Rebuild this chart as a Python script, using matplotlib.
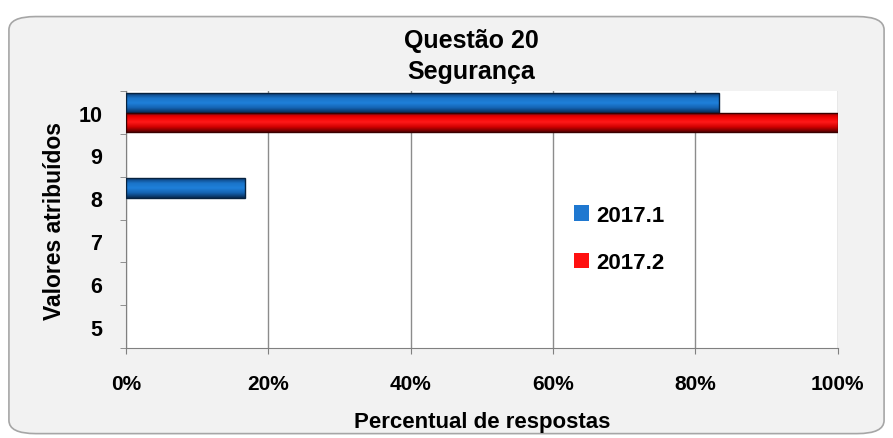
import numpy as np
import matplotlib
matplotlib.use('Agg')
import matplotlib.pyplot as plt
from matplotlib.patches import FancyBboxPatch
from matplotlib.colors import LinearSegmentedColormap

plt.rcParams['font.family'] = ['Liberation Sans', 'DejaVu Sans']

categorias = ['5', '6', '7', '8', '9', '10']
serie_2017_1 = [0, 0, 0, 16.7, 0, 83.3]
serie_2017_2 = [0, 0, 0, 0, 0, 100]
x_ticks = [0, 20, 40, 60, 80, 100]

fig = plt.figure(figsize=(8.93, 4.39), dpi=100)
fig.patch.set_facecolor('white')

# moldura arredondada estilo Excel
moldura = FancyBboxPatch((0.010, 0.010), 0.980, 0.950,
                         boxstyle='round,pad=0,rounding_size=0.03',
                         transform=fig.transFigure, facecolor='#f2f2f2',
                         edgecolor='#a6a6a6', linewidth=1.2, zorder=-10)
fig.add_artist(moldura)

ax = fig.add_axes([0.141, 0.205, 0.797, 0.585])
ax.set_facecolor('white')

y = np.arange(len(categorias))
h = 0.465
# barras com valor zero ficam sem contorno
b1 = ax.barh(y + h / 2, serie_2017_1, height=h, color='#1f78d0',
             edgecolor=['#06223f' if v > 0 else 'none' for v in serie_2017_1],
             linewidth=1.0, label='2017.1', zorder=3)
b2 = ax.barh(y - h / 2, serie_2017_2, height=h, color='#ff1010',
             edgecolor=['#3a0000' if v > 0 else 'none' for v in serie_2017_2],
             linewidth=1.0, label='2017.2', zorder=3)

# degradê tipo cilindro (escuro nas bordas, claro no meio)
grad_azul = LinearSegmentedColormap.from_list(
    'az', ['#072a52', '#1462b0', '#1f80da', '#1a74c8', '#0b3d75'])
grad_verm = LinearSegmentedColormap.from_list(
    'vm', ['#5a0000', '#d00000', '#ff1a1a', '#f00000', '#900000'])
g = np.linspace(0, 1, 64).reshape(-1, 1)
for barras, cmap in [(b1, grad_azul), (b2, grad_verm)]:
    for p in barras:
        if p.get_width() <= 0:
            continue
        x0, y0 = p.get_x(), p.get_y()
        im = ax.imshow(g, cmap=cmap, origin='lower', aspect='auto',
                       extent=[x0, x0 + p.get_width(), y0, y0 + p.get_height()],
                       zorder=3.5, interpolation='bilinear')
        im.set_clip_path(p)
        p.set_zorder(4)
        p.set_facecolor('none')

ax.set_xlim(0, 100)
ax.set_ylim(-0.5, len(categorias) - 0.5)
ax.set_xticks(x_ticks)
ax.set_xticklabels([f'{v}%' for v in x_ticks], fontsize=15, fontweight='bold')
ax.set_yticks(y)
ax.set_yticklabels(categorias, fontsize=15.5, fontweight='bold')
ax.set_yticks(np.arange(len(categorias) + 1) - 0.5, minor=True)
ax.tick_params(axis='y', which='major', length=0, pad=17)
ax.tick_params(axis='y', which='minor', length=4, color='#808080')
ax.tick_params(axis='x', length=4, color='#808080', pad=15)

ax.grid(axis='x', color='#8c8c8c', linewidth=1.0, zorder=0)
for s in ['top', 'right']:
    ax.spines[s].set_visible(False)
for s in ['left', 'bottom']:
    ax.spines[s].set_color('#808080')

ax.set_xlabel('Percentual de respostas', fontsize=16, fontweight='bold', labelpad=13)
ax.set_ylabel('Valores atribuídos', fontsize=16.5, fontweight='bold', labelpad=9)

fig.text(0.528, 0.907, 'Questão 20', ha='center', va='center', fontsize=18, fontweight='bold')
fig.text(0.528, 0.836, 'Segurança', ha='center', va='center', fontsize=18, fontweight='bold')

leg = ax.legend(loc='center left', bbox_to_anchor=(0.629, 0.424), frameon=False,
                prop={'weight': 'bold', 'size': 16}, borderpad=0, borderaxespad=0,
                handlelength=0.7, handleheight=0.7, handletextpad=0.3, labelspacing=1.2)
for hnd, cor in zip(leg.legend_handles, ['#1f78d0', '#ff1010']):
    hnd.set_facecolor(cor)

fig.savefig('out.png', dpi=100, facecolor=fig.get_facecolor())
